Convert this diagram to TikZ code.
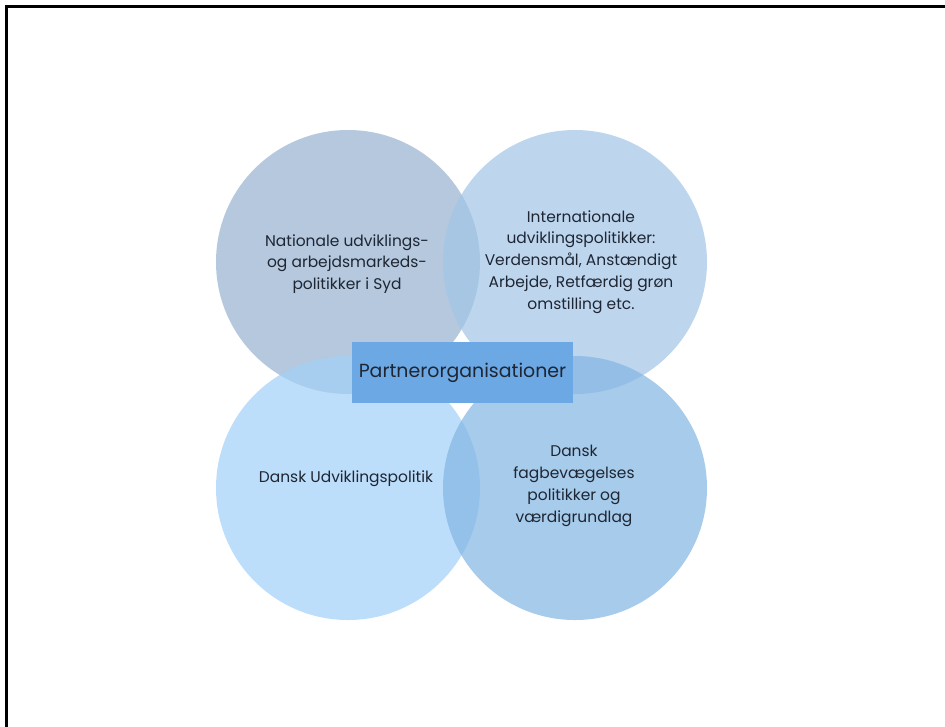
\documentclass[tikz,border=0pt]{standalone}
\usepackage{fontspec}
\setmainfont{Poppins}
\definecolor{cTL}{RGB}{150,178,207}
\definecolor{cTR}{RGB}{161,198,231}
\definecolor{cBL}{RGB}{162,208,248}
\definecolor{cBR}{RGB}{131,181,226}
\definecolor{cBox}{RGB}{108,168,228}
\definecolor{txt}{RGB}{30,38,52}
\begin{document}
\begin{tikzpicture}[x=0.75pt,y=-0.75pt,
  blob/.style={circle, minimum size=198pt, inner sep=0pt, fill opacity=0.7, draw=none},
  lbl/.style={align=center, text=txt, font=\fontsize{11.6}{16.4}\selectfont, inner sep=0pt},
  boxstyle/.style={fill=cBox, minimum width=165.75pt, minimum height=45.75pt, inner sep=0pt,
     text=txt, font=\fontsize{14.2}{16}\selectfont}]
\useasboundingbox (0,0) rectangle (945,726);
\fill[white] (0,0) rectangle (945,726);
\coordinate (fa) at (6.5,726);
\coordinate (fb) at (6.5,6.5);
\coordinate (fc) at (945,6.5);
\draw[line width=2.4pt, line cap=rect] (fa) -- (fb) -- (fc);
\node[blob, fill=cTL] (c1) at (348,262) {};
\node[blob, fill=cTR] (c2) at (575,262) {};
\node[blob, fill=cBL] (c3) at (348,488) {};
\node[blob, fill=cBR] (c4) at (575,488) {};
\node[lbl] (t1) at (347,264) {Nationale udviklings-\\og arbejdsmarkeds-\\politikker i Syd};
\node[lbl] (t2) at (581,262) {Internationale\\udviklingspolitikker:\\Verdensmål, Anstændigt\\Arbejde, Retfærdig grøn\\omstilling etc.};
\node[lbl] (t3) at (346,479) {Dansk Udviklingspolitik};
\node[lbl] (t4) at (574,486) {Dansk\\fagbevægelses\\politikker og\\værdigrundlag};
\node[boxstyle] (p) at (462.5,372.5) {Partnerorganisationer};
\end{tikzpicture}
\end{document}
